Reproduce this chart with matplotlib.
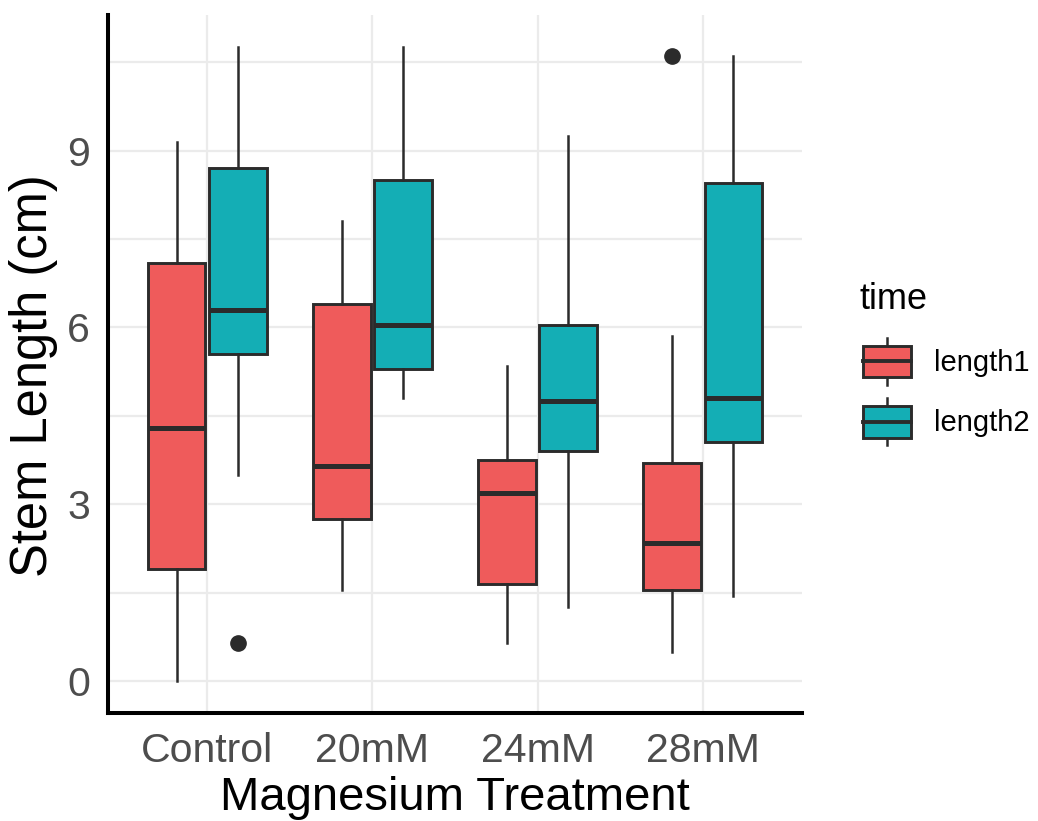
import matplotlib
matplotlib.use('Agg')
import matplotlib.pyplot as plt
from matplotlib.patches import Patch, Rectangle
from matplotlib.lines import Line2D
from matplotlib.legend_handler import HandlerBase

plt.rcParams['font.family'] = ['Liberation Sans', 'DejaVu Sans']

# data
groups = ['Control', '20mM', '24mM', '28mM']
series = ['length1', 'length2']
colors = ['#EF5B5B', '#14AEB5']

# whislo, q1, median, q3, whishi per group
len1_low = [0.0, 1.55, 0.65, 0.5]
len1_q1 = [1.9, 2.75, 1.65, 1.55]
len1_med = [4.3, 3.65, 3.2, 2.35]
len1_q3 = [7.1, 6.4, 3.75, 3.7]
len1_high = [9.15, 7.8, 5.35, 5.85]
len1_out = [[], [], [], [10.6]]

len2_low = [3.5, 4.8, 1.25, 1.45]
len2_q1 = [5.55, 5.3, 3.9, 4.05]
len2_med = [6.3, 6.05, 4.75, 4.8]
len2_q3 = [8.7, 8.5, 6.05, 8.45]
len2_high = [10.75, 10.75, 9.25, 10.6]
len2_out = [[0.65], [], [], []]

edge = '#2b2b2b'


def make_stats(low, q1, med, q3, high, out):
    return [dict(whislo=a, q1=b, med=c, q3=d, whishi=e, fliers=f)
            for a, b, c, d, e, f in zip(low, q1, med, q3, high, out)]


stats = [make_stats(len1_low, len1_q1, len1_med, len1_q3, len1_high, len1_out),
         make_stats(len2_low, len2_q1, len2_med, len2_q3, len2_high, len2_out)]

fig = plt.figure(figsize=(10.38, 8.21), dpi=100)
ax = fig.add_axes([108/1038, 1-713/821, (802-108)/1038, (713-15)/821])

offs = [-0.185, 0.185]
for s, st, col, off in zip(series, stats, colors, offs):
    pos = [i + 1 + off for i in range(len(groups))]
    ax.bxp(st, positions=pos, widths=0.35, patch_artist=True,
           showcaps=False, manage_ticks=False,
           boxprops=dict(facecolor=col, edgecolor=edge, linewidth=2.1),
           medianprops=dict(color=edge, linewidth=3.6, solid_capstyle='butt'),
           whiskerprops=dict(color=edge, linewidth=1.8),
           flierprops=dict(marker='o', markerfacecolor=edge,
                           markeredgecolor=edge, markersize=11))

ax.set_xlim(0.4, 4.6)
ax.set_ylim(-0.54, 11.3)
ax.set_xticks(range(1, 5))
ax.set_xticklabels(groups)
ax.set_yticks([0, 3, 6, 9])
ax.set_yticks([1.5, 4.5, 7.5, 10.5], minor=True)
ax.grid(True, which='both', color='#EBEBEB', linewidth=1.6)
ax.set_axisbelow(True)
ax.tick_params(which='both', length=0)
ax.tick_params(axis='both', labelsize=29.5, labelcolor='#4D4D4D')
ax.tick_params(axis='x', pad=14)
ax.tick_params(axis='y', pad=13)
for sp in ['top', 'right']:
    ax.spines[sp].set_visible(False)
for sp in ['left', 'bottom']:
    ax.spines[sp].set_linewidth(2.9)
    ax.spines[sp].set_color('black')
ax.set_xlabel('Magnesium Treatment', fontsize=34, labelpad=4)
ax.set_ylabel('Stem Length (cm)', fontsize=36.5)
ax.yaxis.set_label_coords(-0.072, 0.483)


class BoxKey(HandlerBase):
    def create_artists(self, legend, orig_handle, xdescent, ydescent,
                       width, height, fontsize, trans):
        fc = orig_handle.get_facecolor()
        x0, y0 = -xdescent, -ydescent
        bh = height * 0.68
        by = y0 + (height - bh) / 2
        xc = x0 + width / 2
        box = Rectangle((x0, by), width, bh, facecolor=fc, edgecolor=edge,
                        linewidth=2.1, transform=trans)
        med = Line2D([x0, x0 + width], [by + bh / 2] * 2, color=edge,
                     linewidth=2.8, transform=trans)
        top = Line2D([xc, xc], [by + bh, y0 + height], color=edge,
                     linewidth=1.8, transform=trans)
        bot = Line2D([xc, xc], [y0, by], color=edge, linewidth=1.8,
                     transform=trans)
        return [top, bot, box, med]


handles = [Patch(facecolor=c) for c in colors]
leg = fig.legend(handles, series, handler_map={Patch: BoxKey()},
                 loc='upper left', bbox_to_anchor=(863/1038, 1-338/821),
                 frameon=False, fontsize=21,
                 handlelength=1.65, handleheight=2.1, labelspacing=0.45,
                 handletextpad=0.8, borderpad=0, borderaxespad=0)
fig.text(860/1038, 1-309/821, 'time', fontsize=26, va='baseline')

fig.savefig('out.png', dpi=100)
